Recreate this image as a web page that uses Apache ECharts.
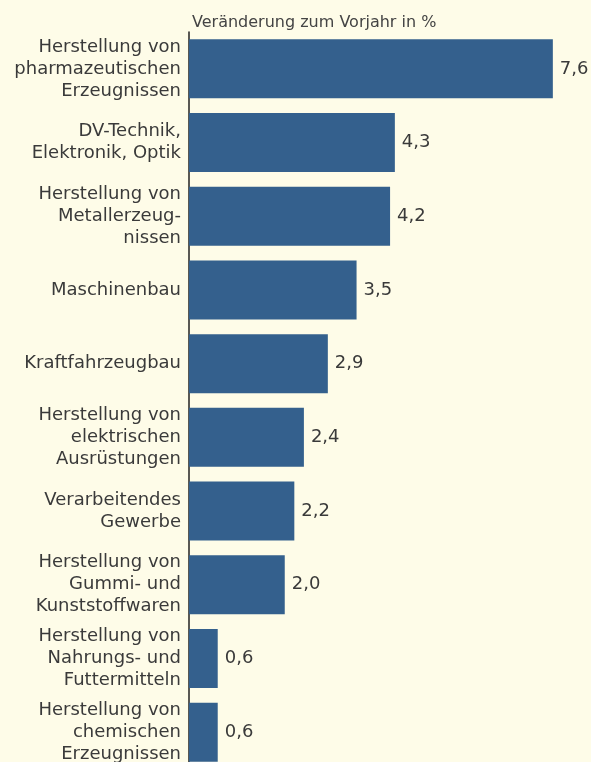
<!DOCTYPE html>
<html>
<head>
<meta charset="utf-8">
<script src="https://cdn.jsdelivr.net/npm/echarts@6/dist/echarts.min.js"></script>
<style>
html, body { margin: 0; padding: 0; background: #fefce8; }
#chart { width: 591px; height: 762px; }
</style>
</head>
<body>
<div id="chart"></div>
<script>
// Branchen und Veränderung zum Vorjahr in %
var categories = [
    'Herstellung von\npharmazeutischen\nErzeugnissen',
    'DV-Technik,\nElektronik, Optik',
    'Herstellung von\nMetallerzeug-\nnissen',
    'Maschinenbau',
    'Kraftfahrzeugbau',
    'Herstellung von\nelektrischen\nAusrüstungen',
    'Verarbeitendes\nGewerbe',
    'Herstellung von\nGummi- und\nKunststoffwaren',
    'Herstellung von\nNahrungs- und\nFuttermitteln',
    'Herstellung von\nchemischen\nErzeugnissen'
]
var values = [7.6, 4.3, 4.2, 3.5, 2.9, 2.4, 2.2, 2.0, 0.6, 0.6]
var titleText = 'Veränderung zum Vorjahr in %'

var myChart = echarts.init(document.getElementById('chart'))
var option = {
    backgroundColor: '#fefce8',
    textStyle: { fontFamily: 'DejaVu Sans' },
    title: {
        text: titleText,
        left: 187,
        top: 10,
        textStyle: { fontSize: 16, fontWeight: 'normal', color: '#444', fontFamily: 'DejaVu Sans' }
    },
    grid: { left: 189, top: 32, width: 383, height: 737, outerBoundsMode: 'none' },
    xAxis: {
        type: 'value',
        min: 0,
        max: 8,
        show: false
    },
    yAxis: {
        type: 'category',
        inverse: true,
        data: categories,
        axisLine: { show: true, lineStyle: { color: '#222', width: 1.5 } },
        axisTick: { show: false },
        axisLabel: {
            fontSize: 18,
            lineHeight: 22,
            color: '#3a3a3a',
            margin: 8,
            align: 'right',
            fontFamily: 'DejaVu Sans'
        }
    },
    series: [
        {
            type: 'bar',
            data: values,
            barCategoryGap: '20%',
            itemStyle: { color: '#34608d' },
            label: {
                show: true,
                position: 'right',
                distance: 7,
                fontSize: 18,
                color: '#3a3a3a',
                fontFamily: 'DejaVu Sans',
                formatter: function (arg) {
                    return arg.value.toFixed(1).replace('.', ',')
                }
            }
        }
    ]
}
myChart.setOption(option)
</script>
</body>
</html>
